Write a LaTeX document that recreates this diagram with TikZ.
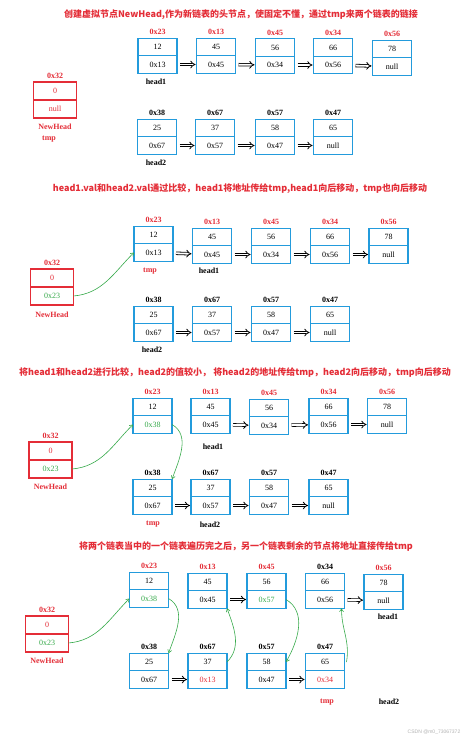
\documentclass[tikz,border=0pt]{standalone}
\usepackage{fontspec}
\setmainfont{Liberation Serif}
\setsansfont{Liberation Sans}
\newfontfamily\cjk{Noto Sans CJK SC}
\usetikzlibrary{arrows.meta,positioning}
\definecolor{BoxBlue}{RGB}{35,155,220}
\definecolor{HeadRed}{RGB}{228,45,55}
\definecolor{LinkGreen}{RGB}{55,170,75}
\newcommand{\listnode}[6]{%
  \node[cell] (#1v) at (#2) {#5};
  \node[cell,below=0pt of #1v] (#1n) {#6};
  \node[addr,text=#3,above=0pt of #1v] (#1a) {#4};}
\newcommand{\headnode}[4]{%
  \node[hcell] (#1v) at (#2) {#3};
  \node[hcell,below=0pt of #1v] (#1n) {#4};
  \node[addr,text=HeadRed,above=0pt of #1v] (#1a) {0x32};}
\begin{document}
\begin{tikzpicture}[x=1pt,y=1pt,
        cell/.style={draw=BoxBlue,line width=1.2pt,minimum width=39pt,minimum height=17.5pt,
                     inner sep=0pt,outer sep=0pt,font=\fontsize{8}{9}\selectfont},
        hcell/.style={cell,draw=HeadRed,minimum width=43pt,minimum height=18pt,text=HeadRed},
        addr/.style={font=\bfseries\fontsize{8}{9}\selectfont},
        lbl/.style={font=\bfseries\fontsize{8}{9}\selectfont},
        title/.style={font=\cjk\bfseries\fontsize{9}{10}\selectfont,text=HeadRed},
        link/.style={-{Implies},double,double distance=1.8pt,line width=0.8pt,
                     shorten <=3pt,shorten >=1pt},
        move/.style={-{Straight Barb[length=3pt,width=4pt]},LinkGreen,line width=0.6pt}]
    \fill[white] (0,0) rectangle (474,-739);
    \useasboundingbox (0,0) rectangle (474,-739);

    \node[title] (t1) at (241,-15) {创建虚拟节点NewHead,作为新链表的头节点，使固定不懂，通过tmp来两个链表的链接};
    \listnode{p1a1}{157.5,-47}{HeadRed}{0x23}{12}{0x13}
    \listnode{p1a2}{216,-47}{HeadRed}{0x13}{45}{0x45}
    \listnode{p1a3}{275,-47.5}{HeadRed}{0x45}{56}{0x34}
    \listnode{p1a4}{333,-47.5}{HeadRed}{0x34}{66}{0x56}
    \listnode{p1a5}{392,-49}{HeadRed}{0x56}{78}{null}
    \listnode{p1b1}{157,-128}{black}{0x38}{25}{0x67}
    \listnode{p1b2}{215,-128}{black}{0x67}{37}{0x57}
    \listnode{p1b3}{275,-128}{black}{0x57}{58}{0x47}
    \listnode{p1b4}{333,-128}{black}{0x47}{65}{null}
    \headnode{p1h}{55,-91}{0}{null}
    \node[lbl] (p1l1) at (156,-82) {head1};
    \node[lbl] (p1l2) at (156,-163) {head2};
    \node[lbl,text=HeadRed] (p1nh) at (55,-127) {NewHead};
    \node[lbl,text=HeadRed] (p1tmp) at (49,-139) {tmp};
    \draw[link] (p1a1n) -- (p1a2n);
    \draw[link] (p1a2n) -- (p1a3n);
    \draw[link] (p1a3n) -- (p1a4n);
    \draw[link] (p1a4n) -- (p1a5n);
    \draw[link] (p1b1n) -- (p1b2n);
    \draw[link] (p1b2n) -- (p1b3n);
    \draw[link] (p1b3n) -- (p1b4n);

    \node[title] (t2) at (240,-189) {head1.val和head2.val通过比较，head1将地址传给tmp,head1向后移动，tmp也向后移动};
    \listnode{p2a1}{153.5,-235}{HeadRed}{0x23}{12}{0x13}
    \listnode{p2a2}{212,-237}{HeadRed}{0x13}{45}{0x45}
    \listnode{p2a3}{271,-237}{HeadRed}{0x45}{56}{0x34}
    \listnode{p2a4}{330,-237}{HeadRed}{0x34}{66}{0x56}
    \listnode{p2a5}{388.5,-237}{HeadRed}{0x56}{78}{null}
    \listnode{p2b1}{153.5,-315}{black}{0x38}{25}{0x67}
    \listnode{p2b2}{212,-315}{black}{0x67}{37}{0x57}
    \listnode{p2b3}{271,-315}{black}{0x57}{58}{0x47}
    \listnode{p2b4}{330,-315}{black}{0x47}{65}{null}
    \headnode{p2h}{52,-278}{0}{\textcolor{LinkGreen}{0x23}}
    \node[lbl,text=HeadRed] (p2tmp) at (150,-271) {tmp};
    \node[lbl] (p2l1) at (209,-271) {head1};
    \node[lbl] (p2l2) at (152,-350) {head2};
    \node[lbl,text=HeadRed] (p2nh) at (52,-315) {NewHead};
    \draw[link] (p2a1n) -- (p2a2n);
    \draw[link] (p2a2n) -- (p2a3n);
    \draw[link] (p2a3n) -- (p2a4n);
    \draw[link] (p2a4n) -- (p2a5n);
    \draw[link] (p2b1n) -- (p2b2n);
    \draw[link] (p2b2n) -- (p2b3n);
    \draw[link] (p2b3n) -- (p2b4n);
    \draw[move] (p2hn.east) to[out=5,in=225] (p2a1n.west);

    \node[title] (t3) at (235,-373) {将head1和head2进行比较，head2的值较小， 将head2的地址传给tmp，head2向后移动，tmp向后移动};
    \listnode{p3a1}{152.5,-407}{HeadRed}{0x23}{12}{\textcolor{LinkGreen}{0x38}}
    \listnode{p3a2}{210.5,-407}{HeadRed}{0x13}{45}{0x45}
    \listnode{p3a3}{269,-408}{HeadRed}{0x45}{56}{0x34}
    \listnode{p3a4}{328.5,-407}{HeadRed}{0x34}{66}{0x56}
    \listnode{p3a5}{387,-407}{HeadRed}{0x56}{78}{null}
    \listnode{p3b1}{152.5,-488}{black}{0x38}{25}{0x67}
    \listnode{p3b2}{210.5,-488}{black}{0x67}{37}{0x57}
    \listnode{p3b3}{269,-488}{black}{0x57}{58}{0x47}
    \listnode{p3b4}{328.5,-488}{black}{0x47}{65}{null}
    \headnode{p3h}{50.5,-451}{0}{\textcolor{LinkGreen}{0x23}}
    \node[lbl] (p3l1) at (213,-447) {head1};
    \node[lbl,text=HeadRed] (p3tmp) at (153,-524) {tmp};
    \node[lbl] (p3l2) at (210,-525) {head2};
    \node[lbl,text=HeadRed] (p3nh) at (50.5,-487) {NewHead};
    \draw[link] (p3a2n) -- (p3a3n);
    \draw[link] (p3a3n) -- (p3a4n);
    \draw[link] (p3a4n) -- (p3a5n);
    \draw[link] (p3b1n) -- (p3b2n);
    \draw[link] (p3b2n) -- (p3b3n);
    \draw[link] (p3b3n) -- (p3b4n);
    \draw[move] (p3hn.east) to[out=5,in=225] (p3a1n.west);
    \draw[move] (p3a1n.east) to[out=-30,in=70] (p3b1v.north east);

    \node[title] (t4) at (246,-547) {将两个链表当中的一个链表遍历完之后，另一个链表剩余的节点将地址直接传给tmp};
    \listnode{p4a1}{149,-581}{HeadRed}{0x23}{12}{\textcolor{LinkGreen}{0x38}}
    \listnode{p4a2}{207.5,-582}{HeadRed}{0x13}{45}{0x45}
    \listnode{p4a3}{266.5,-582}{HeadRed}{0x45}{56}{\textcolor{LinkGreen}{0x57}}
    \listnode{p4a4}{325,-582}{black}{0x34}{66}{0x56}
    \listnode{p4a5}{383.5,-583}{HeadRed}{0x56}{78}{null}
    \listnode{p4b1}{149,-662}{black}{0x38}{25}{0x67}
    \listnode{p4b2}{207.5,-662}{black}{0x67}{37}{\textcolor{HeadRed}{0x13}}
    \listnode{p4b3}{266.5,-662}{black}{0x57}{58}{0x47}
    \listnode{p4b4}{325,-662}{black}{0x47}{65}{\textcolor{HeadRed}{0x34}}
    \headnode{p4h}{47,-625}{0}{\textcolor{LinkGreen}{0x23}}
    \node[lbl] (p4l1) at (388,-617) {head1};
    \node[lbl,text=HeadRed] (p4tmp) at (327,-702) {tmp};
    \node[lbl] (p4l2) at (389,-702) {head2};
    \node[lbl,text=HeadRed] (p4nh) at (47,-661) {NewHead};
    \draw[link] (p4a2n) -- (p4a3n);
    \draw[link] (p4a4n) -- (p4a5n);
    \draw[link] (p4b1n) -- (p4b2n);
    \draw[link] (p4b3n) -- (p4b4n);
    \draw[move] (p4hn.east) to[out=5,in=225] (p4a1n.west);
    \draw[move] (p4a1n.east) to[out=-30,in=70] (p4b1v.north east);
    \draw[move] (p4b2v.east) to[out=45,in=-70] (p4a2n.south east);
    \draw[move] (p4a3n.east) to[out=-30,in=60] (p4b3v.east);
    \draw[move] ([xshift=2pt]p4b4v.east) to[out=80,in=-90] ([xshift=-3pt]p4a4n.south east);

    \node[font=\sffamily\fontsize{5}{6}\selectfont,text=gray!60] (mark) at (434,-732) {CSDN @m0\_73067372};
\end{tikzpicture}
\end{document}
